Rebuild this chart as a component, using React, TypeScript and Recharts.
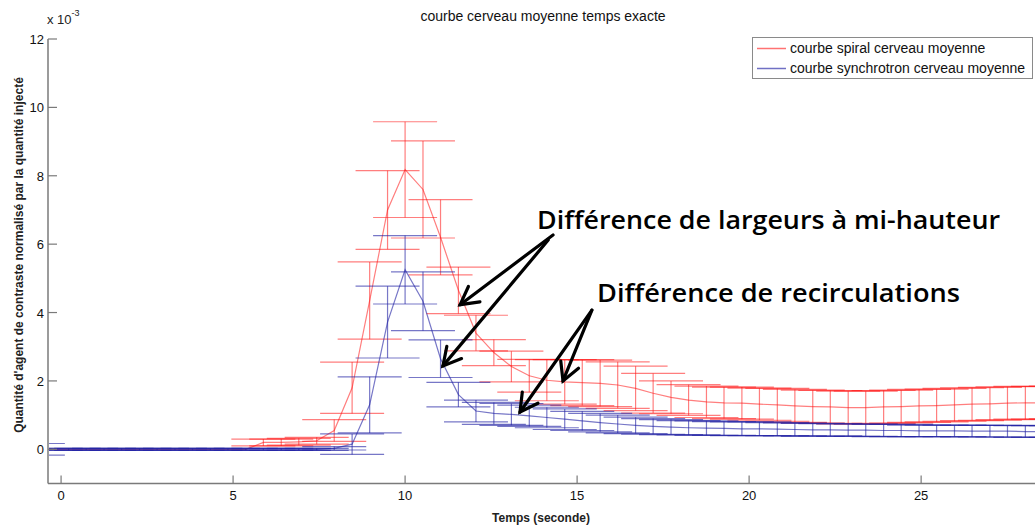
import React from 'react';
import { ComposedChart, Line, ErrorBar, XAxis, YAxis, ReferenceLine, Legend } from 'recharts';

const times = [-0.82, -0.30, 0.22, 0.73, 1.25, 1.76, 2.28, 2.79, 3.31, 3.82, 4.34, 4.85, 5.37, 5.88, 6.40, 6.91, 7.43, 7.94, 8.46, 8.97, 9.49, 10.00, 10.52, 11.03, 11.55, 12.06, 12.58, 13.09, 13.61, 14.12, 14.64, 15.15, 15.67, 16.18, 16.70, 17.21, 17.73, 18.24, 18.76, 19.27, 19.79, 20.30, 20.82, 21.33, 21.85, 22.36, 22.88, 23.39, 23.91, 24.42, 24.94, 25.45, 25.97, 26.48, 27.00, 27.51, 28.03, 28.54, 29.06];

const spiralMean = [0, 0, 0, 0, 0, 0, 0, 0, 0, 0, 0, 0, 0, 0.20, 0.20, 0.22, 0.25, 0.55, 1.80, 4.35, 7.00, 8.18, 7.60, 6.20, 4.65, 3.40, 2.83, 2.42, 2.15, 2.02, 1.97, 1.95, 1.93, 1.88, 1.78, 1.64, 1.52, 1.44, 1.39, 1.36, 1.35, 1.32, 1.30, 1.27, 1.25, 1.24, 1.22, 1.22, 1.24, 1.25, 1.27, 1.28, 1.30, 1.32, 1.33, 1.35, 1.36, 1.36, 1.37];
const spiralErr = [0, 0, 0, 0, 0, 0, 0, 0, 0, 0, 0, 0, 0, 0.10, 0.10, 0.10, 0.10, 0.32, 0.75, 1.13, 1.15, 1.40, 1.42, 1.10, 0.68, 0.52, 0.38, 0.45, 0.48, 0.60, 0.65, 0.67, 0.68, 0.68, 0.65, 0.58, 0.48, 0.45, 0.46, 0.46, 0.47, 0.47, 0.48, 0.48, 0.48, 0.48, 0.48, 0.48, 0.48, 0.48, 0.48, 0.48, 0.48, 0.48, 0.48, 0.48, 0.48, 0.48, 0.48];

const synchroMean = [0, 0, 0, 0, 0, 0, 0, 0, 0, 0, 0, 0, 0, 0, 0, 0, 0, 0.03, 0.15, 1.30, 3.72, 5.25, 4.33, 2.65, 1.60, 1.12, 1.05, 1.02, 0.98, 0.93, 0.88, 0.83, 0.78, 0.74, 0.70, 0.67, 0.65, 0.63, 0.62, 0.61, 0.60, 0.60, 0.59, 0.58, 0.57, 0.57, 0.56, 0.56, 0.55, 0.55, 0.54, 0.54, 0.54, 0.53, 0.53, 0.53, 0.52, 0.52, 0.52];
const synchroErr = [0.17, 0.03, 0.03, 0.03, 0.03, 0.03, 0.03, 0.03, 0.03, 0.03, 0.03, 0.03, 0.03, 0.03, 0.03, 0.03, 0.03, 0.05, 0.30, 0.82, 1.05, 1.00, 0.86, 0.55, 0.36, 0.32, 0.32, 0.32, 0.31, 0.30, 0.30, 0.28, 0.27, 0.26, 0.24, 0.23, 0.22, 0.21, 0.21, 0.20, 0.20, 0.20, 0.19, 0.19, 0.19, 0.18, 0.18, 0.18, 0.18, 0.18, 0.17, 0.17, 0.17, 0.17, 0.17, 0.17, 0.17, 0.17, 0.17];

const xTicks = [0, 5, 10, 15, 20, 25];
const yTicks = [0, 2, 4, 6, 8, 10, 12];
const xDomain: [number, number] = [-0.38, 28.31];
const yDomain: [number, number] = [-1, 12];

const arrowTails = [
  { x: 14.30, y: 6.27 },
  { x: 14.16, y: 6.12 },
  { x: 15.43, y: 4.07 },
  { x: 15.43, y: 4.07 },
];
const arrowTips = [
  { x: 11.60, y: 4.23 },
  { x: 11.10, y: 2.44 },
  { x: 13.34, y: 1.09 },
  { x: 14.59, y: 2.00 },
];

const spiralData = times.map((t, i) => ({ t, v: spiralMean[i], e: spiralErr[i] }));
const synchroData = times.map((t, i) => ({ t, v: synchroMean[i], e: synchroErr[i] }));

const RED = 'rgba(255,20,20,0.55)';
const BLUE = 'rgba(35,35,165,0.62)';
const AXIS = '#7a7a7a';
const FONT = '"Liberation Sans", Arial, Helvetica, sans-serif';
const W = 1035;
const H = 530;
const MARGIN = { top: 39, right: 0, bottom: 0, left: 0 };

const XTick = (props: any) => {
  const { x, y, payload } = props;
  return (
    <g>
      <line x1={x} y1={y} x2={x} y2={y - 8} stroke={AXIS} strokeWidth={1.2} />
      <text x={x} y={y + 16} textAnchor="middle" fontSize={13} fill="#111" fontFamily={FONT}>
        {payload.value}
      </text>
    </g>
  );
};

const YTick = (props: any) => {
  const { x, y, payload } = props;
  return (
    <g>
      <line x1={x} y1={y} x2={x + 9} y2={y} stroke={AXIS} strokeWidth={1.2} />
      <text x={x - 4} y={y + 5} textAnchor="end" fontSize={13} fill="#111" fontFamily={FONT}>
        {payload.value}
      </text>
    </g>
  );
};

const ArrowShape = (props: any) => {
  const { x1, y1, x2, y2 } = props;
  const ang = Math.atan2(y2 - y1, x2 - x1);
  const L = 20;
  const a = 0.5;
  const p1x = x2 - L * Math.cos(ang - a);
  const p1y = y2 - L * Math.sin(ang - a);
  const p2x = x2 - L * Math.cos(ang + a);
  const p2y = y2 - L * Math.sin(ang + a);
  return (
    <g>
      <line x1={x1} y1={y1} x2={x2} y2={y2} stroke="#000" strokeWidth={3.2} strokeLinecap="round" />
      <polyline points={`${p1x},${p1y} ${x2},${y2} ${p2x},${p2y}`} fill="none" stroke="#000" strokeWidth={3.2} strokeLinecap="round" strokeLinejoin="miter" />
    </g>
  );
};

const LegendBox = () => (
  <svg width={282} height={43} style={{ display: 'block' }}>
    <rect x={0.5} y={0.5} width={280} height={41} fill="#fff" stroke="#8a8a8a" strokeWidth={1} />
    <line x1={5} y1={11.5} x2={34} y2={11.5} stroke="rgba(255,20,20,0.6)" strokeWidth={1.5} />
    <text x={38} y={16} fontSize={14} fill="#111" fontFamily={FONT}>courbe spiral cerveau moyenne</text>
    <line x1={5} y1={31.5} x2={34} y2={31.5} stroke="rgba(35,35,165,0.65)" strokeWidth={1.5} />
    <text x={38} y={36} fontSize={14} fill="#111" fontFamily={FONT}>courbe synchrotron cerveau moyenne</text>
  </svg>
);

export default function App() {
  return (
    <div style={{ position: 'absolute', left: 0, top: 0, width: W, height: H, background: '#fff', overflow: 'hidden' }}>
      {/* data series, clipped to the plot area (drawn first, axes on top) */}
      <div style={{ position: 'absolute', left: 0, top: 0, width: W, height: H, clipPath: 'inset(0px 0px 47px 49px)' }}>
        <ComposedChart width={W} height={H} margin={MARGIN}>
          <XAxis
            type="number"
            dataKey="t"
            domain={xDomain}
            allowDataOverflow
            ticks={xTicks}
            tick={false}
            tickLine={false}
            axisLine={false}
            height={46.5}
          />
          <YAxis
            type="number"
            domain={yDomain}
            allowDataOverflow
            ticks={yTicks}
            tick={false}
            tickLine={false}
            axisLine={false}
            width={48}
          />
          <Line
            data={spiralData}
            dataKey="v"
            stroke={RED}
            strokeWidth={1.2}
            dot={false}
            isAnimationActive={false}
            name="courbe spiral cerveau moyenne"
          >
            <ErrorBar dataKey="e" direction="y" width={32} stroke={RED} strokeWidth={1.2} isAnimationActive={false} />
          </Line>
          <Line
            data={synchroData}
            dataKey="v"
            stroke={BLUE}
            strokeWidth={1.2}
            dot={false}
            isAnimationActive={false}
            name="courbe synchrotron cerveau moyenne"
          >
            <ErrorBar dataKey="e" direction="y" width={32} stroke={BLUE} strokeWidth={1.2} isAnimationActive={false} />
          </Line>
          {arrowTails.map((s, i) => (
            <ReferenceLine key={i} segment={[s, arrowTips[i]]} shape={ArrowShape} ifOverflow="visible" />
          ))}
        </ComposedChart>
      </div>
      {/* axes, ticks and legend */}
      <div style={{ position: 'absolute', left: 0, top: 0, width: W, height: H }}>
        <ComposedChart width={W} height={H} margin={MARGIN}>
          <XAxis
            type="number"
            dataKey="t"
            domain={xDomain}
            allowDataOverflow
            ticks={xTicks}
            tick={<XTick />}
            tickLine={false}
            tickSize={0}
            tickMargin={0}
            height={46.5}
            axisLine={{ stroke: AXIS, strokeWidth: 1.5 }}
          />
          <YAxis
            type="number"
            domain={yDomain}
            allowDataOverflow
            ticks={yTicks}
            tick={<YTick />}
            tickLine={false}
            tickSize={0}
            tickMargin={0}
            width={48}
            axisLine={{ stroke: AXIS, strokeWidth: 1.5 }}
          />
          <Legend
            content={LegendBox}
            layout="horizontal"
            verticalAlign="middle"
            align="center"
            wrapperStyle={{ left: 752, top: 37, width: 282, height: 43 }}
          />
        </ComposedChart>
      </div>
      <svg width={W} height={H} style={{ position: 'absolute', left: 0, top: 0, pointerEvents: 'none' }}>
        <text x={543} y={21} textAnchor="middle" fontSize={14} fill="#111" fontFamily={FONT}>
          courbe cerveau moyenne temps exacte
        </text>
        <text x={47} y={24} fontSize={13} fill="#222" fontFamily={FONT}>
          x 10<tspan dy={-8} fontSize={9}>-3</tspan>
        </text>
        <text x={541} y={522} textAnchor="middle" fontSize={12} fontWeight="bold" fill="#222" fontFamily={FONT}>
          Temps (seconde)
        </text>
        <text
          transform="translate(23,255) rotate(-90)"
          textAnchor="middle"
          fontSize={12}
          fontWeight="bold"
          fill="#222"
          fontFamily={FONT}
        >
          Quantité d'agent de contraste normalisé par la quantité injecté
        </text>
        <text x={537} y={229} fontSize={25} fontWeight={600} fill="#000" fontFamily='"Open Sans", "Noto Sans", sans-serif' textLength={463} lengthAdjust="spacingAndGlyphs">
          Différence de largeurs à mi-hauteur
        </text>
        <text x={597} y={302} fontSize={25} fontWeight={600} fill="#000" fontFamily='"Open Sans", "Noto Sans", sans-serif' textLength={363} lengthAdjust="spacingAndGlyphs">
          Différence de recirculations
        </text>
      </svg>
    </div>
  );
}
